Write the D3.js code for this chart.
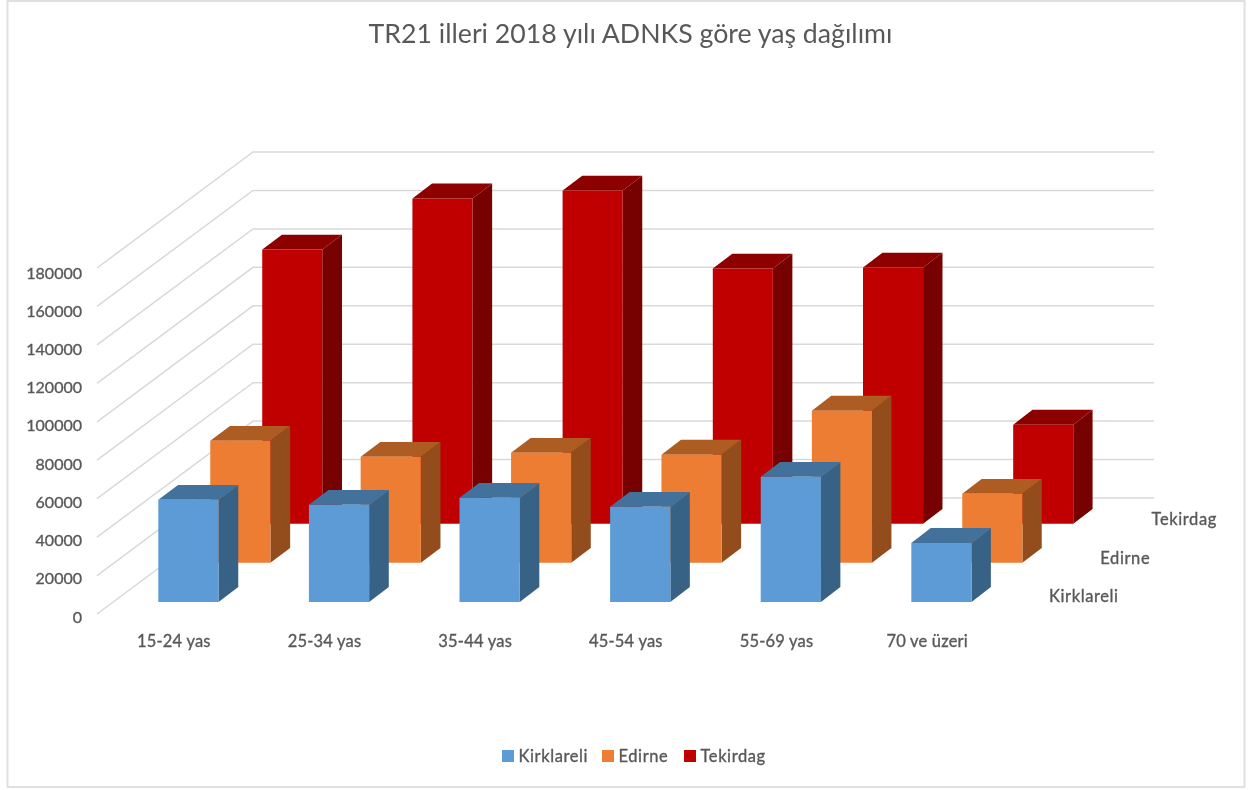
<!DOCTYPE html>
<html>
<head>
<meta charset="utf-8">
<script src="https://cdnjs.cloudflare.com/ajax/libs/d3/7.8.5/d3.min.js"></script>
<style>
  html, body { margin: 0; padding: 0; background: #fff; }
  text { font-family: Lato, "Open Sans", sans-serif; fill: #595959; }
  .small { stroke: #595959; stroke-width: 0.35; }
  .wide { letter-spacing: 0.6px; }
</style>
</head>
<body>
<div id="chart"></div>
<script>
const categories = ['15-24 yas', '25-34 yas', '35-44 yas', '45-54 yas', '55-69 yas', '70 ve üzeri']
const seriesNames = ['Kirklareli', 'Edirne', 'Tekirdag']
const kirklareli = [53100, 50500, 54200, 49500, 65100, 30700]
const edirne = [63500, 55200, 57300, 56300, 79200, 35900]
const tekirdag = [142700, 169300, 173400, 132800, 133300, 51600]
const valueTicks = [0, 20000, 40000, 60000, 80000, 100000, 120000, 140000, 160000, 180000]
const title = 'TR21 illeri 2018 yılı ADNKS göre yaş dağılımı'

const seriesValues = [kirklareli, edirne, tekirdag]
const colors = [
  { face: '#5b9bd5', top: '#42719c', side: '#376285' },
  { face: '#ed7d31', top: '#ad5b24', side: '#934d1e' },
  { face: '#c00000', top: '#8c0000', side: '#770000' }
]

const width = 1252, height = 790

// oblique projection: x along categories, y up the value axis, d into the depth
const origin = { x: 97, y: 614 }
const wallDepth = { x: 156, y: -116 }
const barDepth = { x: 153, y: -114.8 } // bars drift a little less than the wall, slight perspective in the original
const shrink = 0.004
const xScale = d3.scaleBand().domain(categories).range([0, 904]).paddingInner(0.6).paddingOuter(0.3)
const yScale = d3.scaleLinear().domain([0, 180000]).range([0, -346])
const dScale = d3.scaleBand().domain(seriesNames).range([0, 1.02]).paddingInner(0.62).paddingOuter(0.31)

const project = (x, v, d) => [
  origin.x + x * (1 - shrink * d) + d * barDepth.x,
  origin.y + yScale(v) + d * barDepth.y
]

const svg = d3.select('#chart').append('svg')
  .attr('width', width)
  .attr('height', height)

svg.append('defs').append('filter')
  .attr('id', 'soft')
  .append('feGaussianBlur')
  .attr('stdDeviation', 0.45)

svg.append('rect')
  .attr('x', 7.5).attr('y', 1)
  .attr('width', 1237).attr('height', 786)
  .attr('fill', '#fff')
  .attr('stroke', '#e0e0e0')
  .attr('stroke-width', 2)

const plot = svg.append('g').attr('filter', 'url(#soft)')

// ****************** walls ***************************
const grid = plot.append('g')
  .attr('fill', 'none')
  .attr('stroke', '#d9d9d9')
  .attr('stroke-width', 1.5)

grid.selectAll('path')
  .data(valueTicks)
  .join('path')
  .attr('d', v => {
    const y = origin.y + yScale(v)
    const back = [origin.x + wallDepth.x, y + wallDepth.y]
    return d3.line()([[origin.x, y], back, [back[0] + 901, back[1]]])
  })

// ****************** bars, back row first ***************************
const rows = d3.range(seriesNames.length).reverse()

rows.forEach(s => {
  const d0 = dScale(seriesNames[s])
  const d1 = d0 + dScale.bandwidth()
  const c = colors[s]
  const g = plot.append('g')

  const bar = g.selectAll('g')
    .data(categories.map((name, i) => ({ name, value: seriesValues[s][i] })))
    .join('g')

  const x0 = d => xScale(d.name)
  const x1 = d => xScale(d.name) + xScale.bandwidth()
  const poly = pts => d3.line()(pts) + 'Z'

  bar.append('path')
    .attr('fill', c.side)
    .attr('d', d => poly([project(x1(d), 0, d0), project(x1(d), 0, d1), project(x1(d), d.value, d1), project(x1(d), d.value, d0)]))

  bar.append('path')
    .attr('fill', c.top)
    .attr('d', d => poly([project(x0(d), d.value, d0), project(x1(d), d.value, d0), project(x1(d), d.value, d1), project(x0(d), d.value, d1)]))

  bar.append('path')
    .attr('fill', c.face)
    .attr('d', d => poly([project(x0(d), 0, d0), project(x1(d), 0, d0), project(x1(d), d.value, d0), project(x0(d), d.value, d0)]))
})

// ****************** labels ***************************
const labels = svg.append('g')
  .attr('filter', 'url(#soft)')
  .attr('font-size', 16)

labels.selectAll('.tick-label')
  .data(valueTicks)
  .join('text')
  .attr('class', 'tick-label small')
  .attr('text-anchor', 'end')
  .attr('x', origin.x - 15)
  .attr('y', v => origin.y + yScale(v) * 0.994 + 8.5)
  .text(v => v)

labels.selectAll('.cat-label')
  .data(categories)
  .join('text')
  .attr('class', 'cat-label small')
  .attr('text-anchor', 'middle')
  .attr('font-size', 16.5)
  .style('letter-spacing', '0.2px')
  .attr('x', d => origin.x + xScale(d) + xScale.bandwidth() / 2 + 1.5)
  .attr('y', 646.5)
  .text(d => d)

labels.selectAll('.series-label')
  .data(seriesNames)
  .join('text')
  .attr('class', 'series-label small wide')
  .attr('font-size', 16.5)
  .attr('x', d => 1049 + seriesNames.indexOf(d) * 51.3)
  .attr('y', d => 602 - seriesNames.indexOf(d) * 38.5)
  .text(d => d)

// ****************** legend ***************************
const legendX = [502, 602, 684]
const legend = svg.append('g')
  .attr('filter', 'url(#soft)')
  .selectAll('g')
  .data(seriesNames)
  .join('g')
  .attr('transform', (d, i) => `translate(${legendX[i]}, 750)`)

legend.append('rect')
  .attr('width', 12).attr('height', 12)
  .attr('fill', (d, i) => colors[i].face)

legend.append('text')
  .attr('class', 'small wide')
  .attr('x', 16.5).attr('y', 12)
  .attr('font-size', 16.5)
  .text(d => d)

svg.append('text')
  .attr('filter', 'url(#soft)')
  .attr('x', 630.5).attr('y', 43)
  .attr('text-anchor', 'middle')
  .attr('font-size', 26.7)
  .text(title)
</script>
</body>
</html>
